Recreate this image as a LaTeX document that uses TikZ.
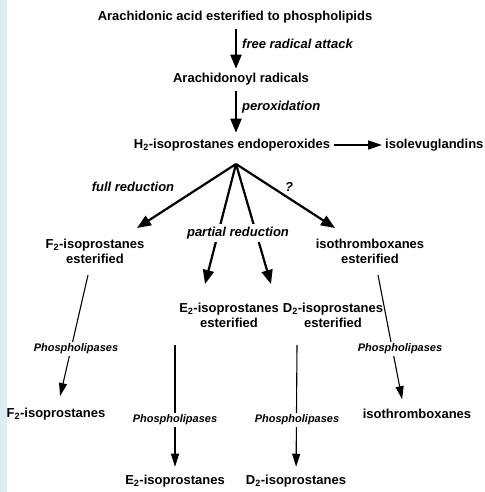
\documentclass[tikz,border=0pt]{standalone}
\usepackage{fontspec}
\setmainfont{Liberation Sans}
\usetikzlibrary{arrows.meta}
\definecolor{stripblue}{HTML}{DDEEF3}
\begin{document}
\begin{tikzpicture}[x=1pt,y=-1pt,
    box/.style={font=\fontsize{13}{15}\selectfont\bfseries, align=center, inner sep=0pt},
    lbl/.style={font=\fontsize{13}{15}\selectfont\bfseries\itshape, inner sep=1pt},
    enz/.style={font=\fontsize{11}{13}\selectfont\bfseries\itshape, fill=white, inner sep=2pt},
    bigarrow/.style={line width=2.2pt, -{Triangle[width=11pt,length=14pt]}},
    midarrow/.style={line width=1.4pt, -{Triangle[width=9pt,length=14pt]}},
    thinarrow/.style={line width=1.1pt, -{Triangle[width=8pt,length=13pt]}}]
  \fill[white] (0,0) rectangle (484,492);
  \fill[stripblue] (0,0) rectangle (7,492);
  \useasboundingbox (0,0) rectangle (484,492);
  %
  \node[box] (aa) at (235,17) {Arachidonic acid esterified to phospholipids};
  \node[box] (rad) at (241,79) {Arachidonoyl radicals};
  \node[box] (h2) at (232,145) {H\textsubscript{2}-isoprostanes endoperoxides};
  \node[box, anchor=west] (isolev) at (385,145) {isolevuglandins};
  \node[box] (f2est) at (95,251) {F\textsubscript{2}-isoprostanes\\esterified};
  \node[box] (e2est) at (229,315) {E\textsubscript{2}-isoprostanes\\esterified};
  \node[box] (d2est) at (333,315) {D\textsubscript{2}-isoprostanes\\esterified};
  \node[box] (txest) at (370,251) {isothromboxanes\\esterified};
  \node[box] (f2) at (56,414) {F\textsubscript{2}-isoprostanes};
  \node[box] (tx) at (417,414) {isothromboxanes};
  \node[box] (e2) at (175,481) {E\textsubscript{2}-isoprostanes};
  \node[box] (d2) at (296,481) {D\textsubscript{2}-isoprostanes};
  %
  \coordinate (spine) at (236,0);
  \coordinate (fork) at (236,164);
  \coordinate (f2tip) at (137,228);
  \coordinate (e2tip) at (205,284);
  \coordinate (d2tip) at (271,284);
  \coordinate (txtip) at (335,228);
  \coordinate (f2top) at (88,275);
  \coordinate (txtop) at (378,275);
  \coordinate (e2top) at (175,345);
  \coordinate (d2top) at (297,345);
  %
  \draw[bigarrow, shorten <=6pt, shorten >=4pt] (aa.south -| spine) -- (rad.north -| spine);
  \draw[bigarrow, shorten <=6pt, shorten >=6pt] (rad.south -| spine) -- (h2.north -| spine);
  \draw[midarrow, shorten <=4pt, shorten >=3pt] (h2.east) -- (isolev.west);
  \draw[bigarrow] (fork) -- (f2tip);
  \draw[bigarrow] (fork) -- (e2tip);
  \draw[bigarrow] (fork) -- (d2tip);
  \draw[bigarrow] (fork) -- (txtip);
  %
  \draw[thinarrow, shorten >=12pt] (f2top) -- (f2);
  \draw[thinarrow, shorten >=10pt] (txtop) -- (tx.north -| 404,0);
  \draw[thinarrow, shorten >=8pt] (e2top) -- (e2);
  \draw[thinarrow, shorten >=8pt] (d2top) -- (d2);
  %
  \node[lbl, anchor=west] (fra) at (241,44) {free radical attack};
  \node[lbl, anchor=west] (perox) at (241,107) {peroxidation};
  \node[lbl] (full) at (133,187) {full reduction};
  \node[lbl] (qm) at (289,187) {?};
  \node[lbl, fill=white, inner sep=3pt] (partial) at (238,233) {partial reduction};
  \node[enz] (pl1) at (76,349) {Phospholipases};
  \node[enz] (pl2) at (400,349) {Phospholipases};
  \node[enz] (pl3) at (175,420) {Phospholipases};
  \node[enz] (pl4) at (297,420) {Phospholipases};
\end{tikzpicture}
\end{document}
